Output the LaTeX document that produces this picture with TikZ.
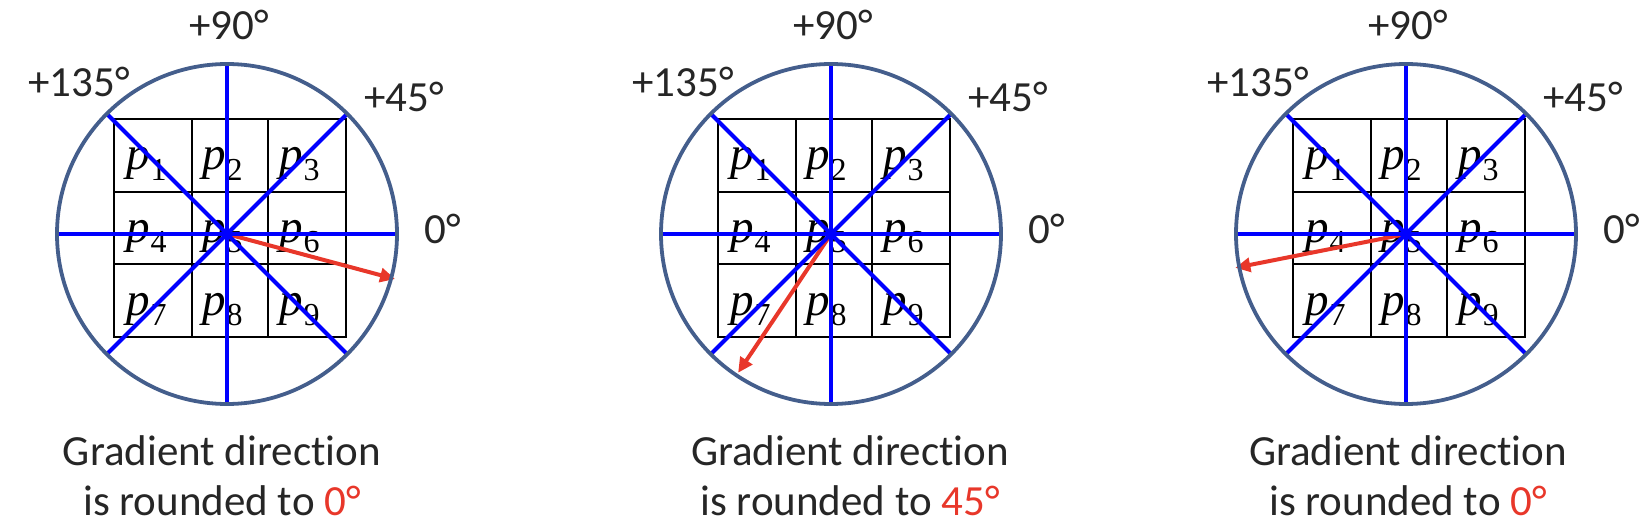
\documentclass[tikz,border=0pt]{standalone}
\usepackage{fontspec}
\setmainfont[Ligatures=NoCommon]{Carlito}
\newfontfamily\pxfont{Liberation Serif}
\usetikzlibrary{arrows.meta}
\definecolor{ringblue}{RGB}{68,94,140}
\definecolor{lineblue}{RGB}{0,0,255}
\definecolor{arrowred}{RGB}{232,55,42}
\definecolor{txt}{RGB}{38,38,38}
\newcommand\pxsym[1]{{\pxfont\fontsize{47}{50}\selectfont\itshape p}\kern1pt\raisebox{-10pt}{\pxfont\fontsize{32}{34}\selectfont #1}}
\tikzset{
  ring/.style={draw=ringblue, line width=3.8pt},
  spoke/.style={draw=lineblue, line width=4pt},
  cellgrid/.style={draw=black, line width=2pt},
  grad/.style={draw=arrowred, line width=4pt, -{Triangle[length=15pt,width=14pt]}},
  anglelabel/.style={text=txt, font=\fontsize{43}{50}\selectfont, anchor=base, inner sep=0pt},
  caption/.style={text=txt, font=\fontsize{43}{50}\selectfont, anchor=base, inner sep=0pt},
  pix/.style={text=black, anchor=base west, inner sep=0pt},
}
\newcommand\gradpanel[6]{%
  \begin{scope}[shift={(#2,234)}]
    \coordinate (#1c) at (0,0);
    \draw[cellgrid] (-113,-115) rectangle (119,103);
    \draw[cellgrid] (-35,-115) -- (-35,103) (41,-115) -- (41,103)
                    (-113,-42) -- (119,-42) (-113,30) -- (119,30);
    \node[pix] (#1p1) at (-101,-64) {\pxsym{1}};
    \node[pix] (#1p2) at (-25,-64) {\pxsym{2}};
    \node[pix] (#1p3) at (52,-64) {\pxsym{3}};
    \node[pix] (#1p4) at (-101,8) {\pxsym{4}};
    \node[pix] (#1p5) at (-25,8) {\pxsym{5}};
    \node[pix] (#1p6) at (52,8) {\pxsym{6}};
    \node[pix] (#1p7) at (-101,81) {\pxsym{7}};
    \node[pix] (#1p8) at (-25,81) {\pxsym{8}};
    \node[pix] (#1p9) at (52,81) {\pxsym{9}};
    \coordinate (#1t) at (#3:#4);
    \draw[grad] (#1c) -- (#1t);
    \foreach \a in {0,45,90,135} {
      \draw[spoke] (\a:169) -- (#1c) -- (\a+180:169);
    }
    \draw[ring] (#1c) circle (170);
    \node[anglelabel] (#1l90) at (2,-194) {+90°};
    \node[anglelabel] (#1l135) at (-148,-137) {+135°};
    \node[anglelabel] (#1l45) at (177,-122) {+45°};
    \node[anglelabel] (#1l0) at (216,9) {0°};
  \end{scope}
  \node[caption] (#1cap1) at (#5,465) {Gradient direction};
  \node[caption] (#1cap2) at (#5,515) {is rounded to \textcolor{arrowred}{#6}};
}
\begin{document}
\begin{tikzpicture}[x=1pt,y=-1pt]
  \useasboundingbox (0,0) rectangle (1652,532);
  \gradpanel{a}{227}{15}{174}{222}{0°}
  \gradpanel{b}{831}{123.8}{167}{850}{45°}
  \gradpanel{c}{1406}{168.8}{174}{1408}{0°}
\end{tikzpicture}
\end{document}
